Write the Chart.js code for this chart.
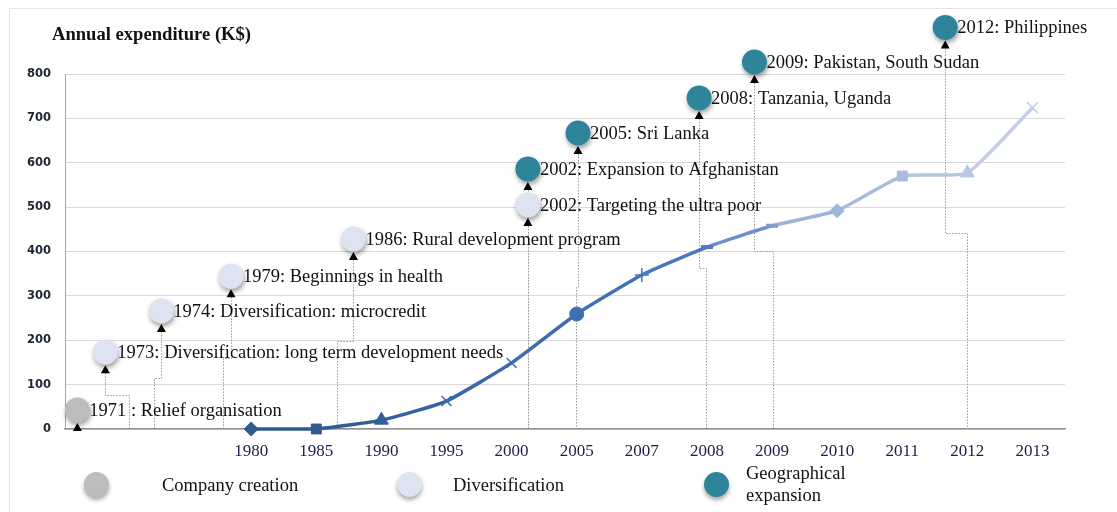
<!DOCTYPE html>
<html><head><meta charset="utf-8">
<script src="https://cdn.jsdelivr.net/npm/chart.js@4.4.1/dist/chart.umd.min.js"></script>
<style>
html,body{margin:0;padding:0;background:#fff;}
#wrap{position:relative;width:1117px;height:512px;overflow:hidden;font-family:"Liberation Serif","Times New Roman",serif;background:#fff;}
#frame{position:absolute;left:9px;top:8px;width:1200px;height:600px;border-top:1.5px solid #dfe6ef;border-left:1.5px solid #dfe6ef;}
canvas{position:absolute;left:0;top:0;}
#title{position:absolute;left:52px;top:23px;font-weight:bold;font-size:18.6px;color:#111;white-space:nowrap;}
.dot{position:absolute;width:25px;height:25px;border-radius:50%;box-shadow:0 3px 4px rgba(0,0,0,0.35);}
.lt{position:absolute;font-size:18.5px;color:#111;line-height:22px;white-space:nowrap;}
</style></head><body>
<div id="wrap">
<div id="frame"></div>
<canvas id="c" width="1117" height="512" style="width:1117px;height:512px"></canvas>
<div id="title">Annual expenditure (K$)</div>
<div id="legend"></div>
</div>
<script>
// ---- data ----
const yearLabels = ['1980','1985','1990','1995','2000','2005','2007','2008','2009','2010','2011','2012','2013'];
const expenditure = [0, 0, 20, 63, 149, 259, 347, 410, 458, 492, 570, 577, 724];
const pointStyles = ['rectRot','rect','triangle','crossRot','crossRot','circle','cross','line','line','rectRot','rect','triangle','crossRot'];
const pointColors = ['#2f5a8e','#30598f','#335f98','#3a68a8','#3d6db0','#3f6fb3','#4575b8','#4f7bbd','#7f9dcf','#a0b5da','#aabcdd','#b8c7e3','#c3d0e7'];
const segmentColors = ['#2f5a8e','#325d93','#36629c','#3a68a8','#3d6db0','#4272b5','#4a78b9','#6e8fc8','#9cb2d9','#a9bcdd','#b5c4e1','#c2cfe6'];

const eventLabels = ['1971 : Relief organisation','1973: Diversification: long term development needs','1974: Diversification: microcredit','1979: Beginnings in health','1986: Rural development program','2002: Targeting the ultra poor','2002: Expansion to Afghanistan','2005: Sri Lanka','2008: Tanzania, Uganda','2009: Pakistan, South Sudan','2012: Philippines'];
const eventTypes  = [0,1,1,1,1,1,2,2,2,2,2];
const eventX      = [-2.67,-2.24,-1.38,-0.31,1.57,4.25,4.25,5.02,6.88,7.73,10.66];
const eventY      = [43,173,266,344,428,505,586,667,746,827,905];
const eventStepY  = [null,77,115,160,199,null,null,319,362,402,441];
const eventBaseX  = [-2.67,-1.87,-1.49,-0.43,1.32,4.25,4.25,4.99,6.99,8.02,11.0];

const legendLabels = ['Company creation','Diversification','Geographical expansion'];
const legendColors = ['#bdbdbd','#dde3f1','#2e859a'];

// ---- legend (HTML) ----
(function(){
  const lg = document.getElementById('legend');
  const dotX = [84, 397, 704], textX = [162, 453, 746];
  legendLabels.forEach((t,i)=>{
    const d = document.createElement('div'); d.className='dot';
    d.style.left = dotX[i]+'px'; d.style.top='472px'; d.style.background = legendColors[i];
    lg.appendChild(d);
    const s = document.createElement('div'); s.className='lt';
    s.style.left = textX[i]+'px';
    if (i===2){ s.style.top='462px'; s.innerHTML='Geographical<br>expansion'; }
    else { s.style.top='474px'; s.textContent=t; }
    lg.appendChild(s);
  });
})();

const eventPlugin = {
  id:'events',
  beforeDatasetDraw(chart,args){
    // event circles are drawn by afterDatasetsDraw (they extend above the chart area)
    if (chart.data.datasets[args.index].eventMarkers) return false;
  },
  beforeDatasetsDraw(chart){
    const c=chart.ctx, xs=chart.scales.x, ys=chart.scales.y;
    c.save(); c.strokeStyle='#9a9a9a'; c.lineWidth=1; c.setLineDash([1.5,1.5]);
    for (let i=0;i<eventX.length;i++){
      const px=Math.round(xs.getPixelForValue(eventX[i]))+0.5;
      const top=ys.getPixelForValue(eventY[i])+21;
      const bx=Math.round(xs.getPixelForValue(eventBaseX[i]))+0.5;
      const y0=ys.getPixelForValue(0);
      c.beginPath(); c.moveTo(px,top);
      if (eventStepY[i]!==null){
        const sy=Math.round(ys.getPixelForValue(eventStepY[i]))+0.5;
        c.lineTo(px,sy); c.lineTo(bx,sy); c.lineTo(bx,y0);
      } else { c.lineTo(px,y0); }
      c.stroke();
    }
    c.restore();
  },
  afterDatasetsDraw(chart){
    const c=chart.ctx, xs=chart.scales.x, ys=chart.scales.y;
    const full={left:0,top:0,right:chart.width,bottom:chart.height};
    const meta = chart.getDatasetMeta(1);
    c.save();
    c.shadowColor='rgba(0,0,0,0.38)'; c.shadowBlur=5; c.shadowOffsetY=3; c.shadowOffsetX=1;
    meta.data.forEach(el=>el.draw(c, full));
    c.restore();
    c.save();
    for (let i=0;i<eventX.length;i++){
      const px=xs.getPixelForValue(eventX[i]);
      const py=ys.getPixelForValue(eventY[i]);
      c.fillStyle='#000';
      c.beginPath(); c.moveTo(px,py+13); c.lineTo(px+4.5,py+21); c.lineTo(px-4.5,py+21); c.closePath(); c.fill();
      c.font='18.5px "Liberation Serif", "Times New Roman", serif';
      c.textBaseline='middle'; c.textAlign='left'; c.fillStyle='#111';
      c.fillText(eventLabels[i], px+12, py+1);
    }
    c.restore();
  }
};

new Chart(document.getElementById('c'), {
  type:'scatter',
  data:{
    datasets:[
      {
        type:'line',
        data: expenditure.map((v,i)=>({x:i,y:v})),
        borderWidth:3.5,
        borderColor:'#3a68a8',
        segment:{ borderColor: ctx => segmentColors[ctx.p0DataIndex] },
        pointStyle: pointStyles,
        pointRadius:[7,7,8,7,7,7,7,6,6,7,7,8,8],
        pointBackgroundColor: pointColors,
        pointBorderColor: pointColors,
        pointBorderWidth:[1,1,1,1.5,1.5,1,1.5,4,4,1,1,1,1.5],
        tension:0.15,
        clip:false,
        order:2
      },
      {
        type:'scatter',
        eventMarkers:true,
        data: eventX.map((x,i)=>({x:x,y:eventY[i]})),
        pointRadius:12.5,
        pointBackgroundColor: eventTypes.map(t=>legendColors[t]),
        pointBorderWidth:0,
        clip:false,
        order:1
      }
    ]
  },
  options:{
    responsive:false,
    animation:false,
    devicePixelRatio:1,
    layout:{padding:{top:74,right:52,bottom:53,left:0}},
    plugins:{legend:{display:false},tooltip:{enabled:false}},
    scales:{
      x:{
        type:'linear', min:-2.86, max:12.5,
        afterBuildTicks(s){ s.ticks = yearLabels.map((l,i)=>({value:i})); },
        afterFit(s){ s.height=30; },
        grid:{display:false, drawTicks:false},
        border:{display:true,color:'#8f8f8f',width:1.5},
        ticks:{ callback:(v)=>yearLabels[v], padding:12, maxRotation:0, autoSkip:false,
          color:'#1b1f4a', font:{family:'"Liberation Serif", "Times New Roman", serif', size:17} }
      },
      y:{
        min:0, max:800,
        afterFit(s){ s.width=65; },
        grid:{color:'#d9d9d9', lineWidth:1, drawTicks:false},
        border:{display:true,color:'#a6a6a6',width:1},
        ticks:{ stepSize:100, padding:14, color:'#1d2433',
          font:{family:'"DejaVu Sans", Verdana, sans-serif', size:11.5, weight:'bold'} }
      }
    }
  },
  plugins:[eventPlugin]
});
</script>
</body></html>
